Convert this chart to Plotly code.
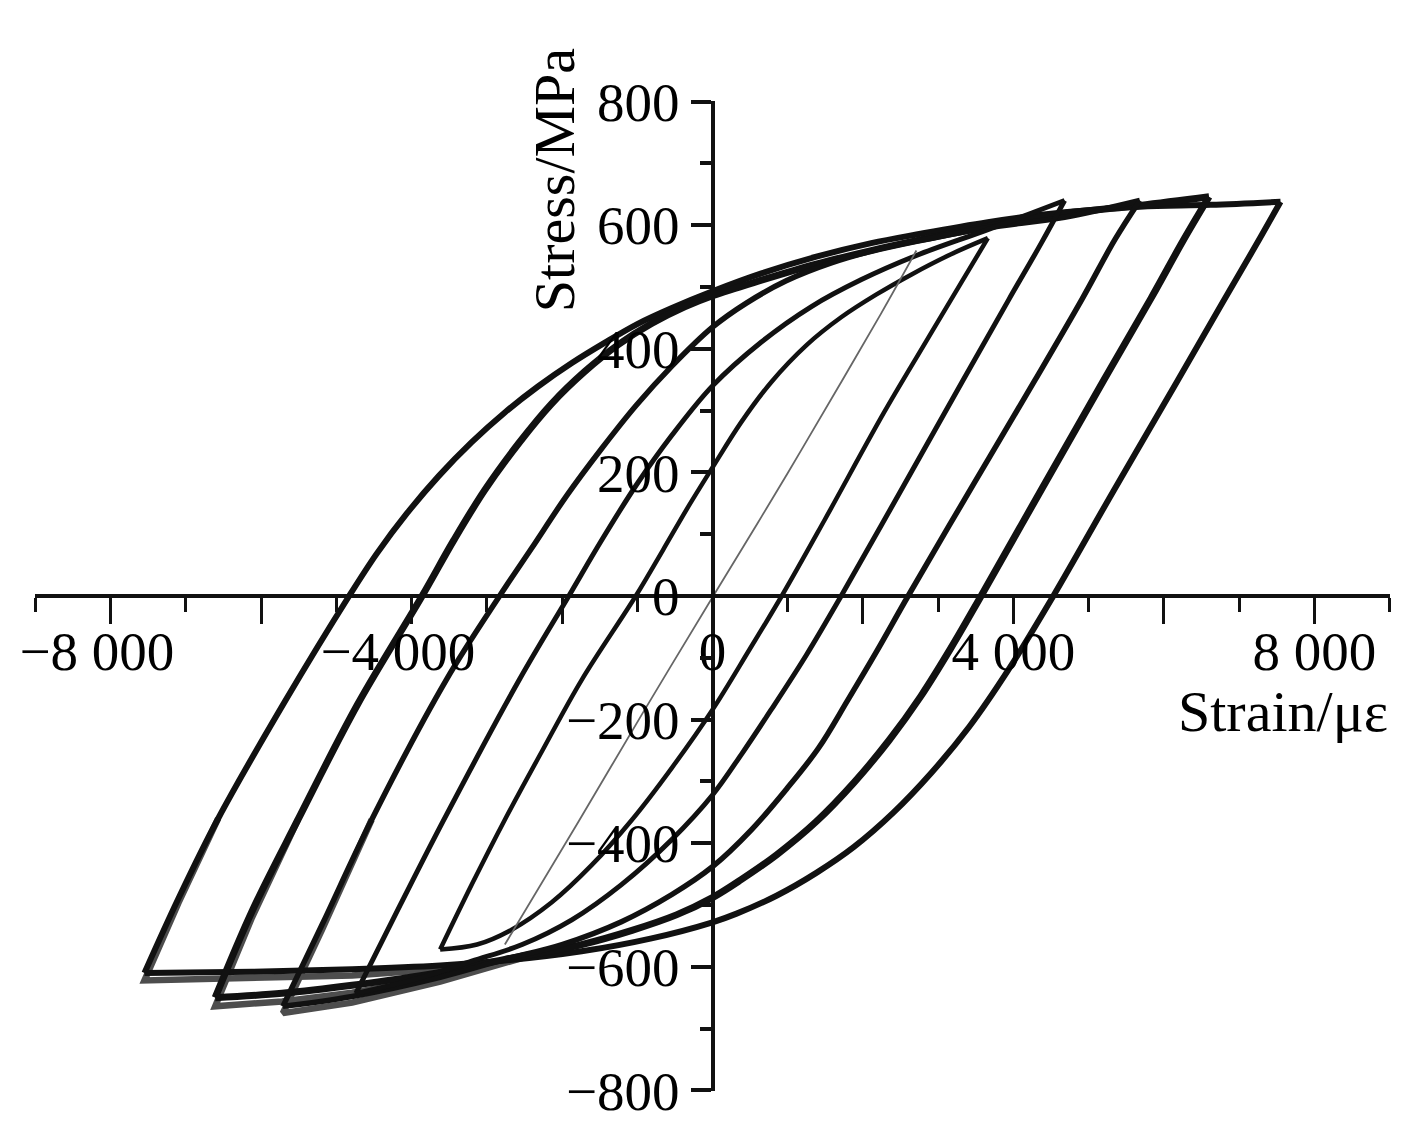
"""
Stress-strain hysteresis loops under increasing strain amplitude.
Values read off the reference figure (strain in με, stress in MPa).
"""
import plotly.graph_objects as go

# ---- loop 6 (largest amplitude) ----
L6_UP_X = [-7550, -7100, -6570, -5680, -4830, -4460, -4060, -3640, -3200, -2760, -2320, -1870,
           -1430, -1000, -540, 0, 650, 1380, 2110, 2710, 3660, 4680, 5680, 6620, 7550]
L6_UP_Y = [-610, -490, -360, -170, 0, 69, 134, 194, 249, 297, 339, 377,
           410, 440, 466, 493, 522, 549, 571, 585, 605, 621, 630, 633, 638]
L6_DN_X = [7550, 7220, 6780, 6160, 5330, 4530, 3930, 3410, 2910, 2400, 1880, 1380,
           850, 320, 0, -810, -1740, -2760, -3620, -4790, -6120, -7550]
L6_DN_Y = [638, 567, 475, 344, 170, 0, -120, -212, -286, -351, -406, -448,
           -485, -514, -528, -554, -575, -590, -598, -604, -608, -610]

# ---- loop 5 ----
L5_UP_X = [-6610, -6120, -5510, -4720, -3860, -3440, -3030, -2570, -2140, -1700, -1250,
           -810, -370, 0, 650, 1380, 2110, 2710, 3660, 4680, 5680, 6600]
L5_UP_Y = [-650, -510, -362, -176, 0, 90, 171, 248, 311, 363, 407,
           441, 468, 486, 511, 537, 559, 575, 598, 619, 632, 646]
L5_DN_X = [6600, 6260, 5830, 5200, 4380, 3570, 3170, 2770, 2350, 1880, 1380, 850,
           380, 0, -480, -1070, -1740, -2760, -3620, -4790, -5720, -6610]
L5_DN_Y = [646, 576, 482, 349, 174, 0, -84, -162, -233, -302, -365, -419,
           -459, -488, -516, -541, -564, -588, -609, -630, -643, -650]

# ---- loop 4 ----
L4_UP_X = [-5710, -5190, -4530, -3540, -2830, -2400, -1940, -1470, -1010, -540, 0,
           450, 980, 1580, 2240, 2910, 3660, 4680, 5680]
L4_UP_Y = [-664, -532, -362, -136, 0, 78, 162, 239, 309, 372, 435,
           474, 510, 539, 562, 579, 596, 613, 640]
L4_DN_X = [5680, 5350, 4910, 4290, 3460, 2600, 2180, 1800, 1410, 980, 520, 0,
           -540, -1210, -2000, -2760, -3620, -4790, -5710]
L4_DN_Y = [640, 577, 480, 350, 179, 0, -90, -168, -246, -313, -378, -438,
           -483, -527, -564, -588, -617, -648, -664]

# ---- loop 3 ----
L3_UP_X = [-4740, -4150, -3570, -2570, -1910, -1470, -1010, -540, 0, 650, 1310, 1980,
           2710, 3660, 4680]
L3_UP_Y = [-643, -500, -362, -136, 0, 91, 180, 260, 340, 411, 468, 512,
           551, 593, 640]
L3_DN_X = [4680, 4370, 3940, 3330, 2520, 1710, 1250, 780, 380, 0, -540, -1210,
           -1870, -2530, -3200, -3860, -4740]
L3_DN_Y = [640, 571, 480, 349, 174, 0, -95, -184, -257, -322, -394, -467,
           -524, -564, -591, -617, -643]

# ---- loop 2 ----
L2_UP_X = [-3620, -3200, -2760, -2270, -1740, -1020, -660, -310, 0, 380, 780, 1250,
           1710, 2180, 2640, 3170, 3660]
L2_UP_Y = [-572, -467, -362, -252, -136, 0, 74, 147, 208, 281, 346, 406,
           451, 488, 520, 553, 579]
L2_DN_X = [3660, 3300, 2810, 2280, 1490, 920, 490, 0, -540, -1070, -1610, -2140,
           -2670, -3130, -3620]
L2_DN_Y = [579, 506, 406, 297, 123, 0, -87, -184, -278, -362, -436, -496,
           -540, -564, -572]

# ---- loop 1 (almost elastic, thin line) ----
L1_X = [-2760, -1780, -940, 10, 650, 1180, 1710, 2240, 2710]
L1_Y = [-564, -365, -192, 0, 128, 236, 346, 457, 559]

# ---- repeated cycles that widen the compressive corners (grey bands) ----
L6B_X = [-2760, -3620, -4790, -6120, -7550, -7100, -6570]
L6B_Y = [-590, -604, -614, -619, -622, -497, -360]
L5B_X = [-2760, -3620, -4790, -5720, -6610, -6120, -5510]
L5B_Y = [-591, -617, -642, -656, -664, -520, -362]
L4B_X = [-2000, -2760, -3620, -4790, -5710, -5190, -4530]
L4B_Y = [-567, -593, -624, -658, -675, -540, -362]

# ---- axes ----
X_TICKS = [-8000, -6000, -4000, -2000, 0, 2000, 4000, 6000, 8000]
X_TICK_TEXT = ["\u22128 000\u2002", "", "\u22124 000\u2002", "", "0", "", "4 000", "", "8 000"]
X_MINOR = [-9000, -7000, -5000, -3000, -1000, 1000, 3000, 5000, 7000, 9000]
Y_TICKS = [-800, -600, -400, -200, 0, 200, 400, 600, 800]
Y_TICK_TEXT = ["\u2212800", "\u2212600", "\u2212400", "\u2212200", "0", "200", "400", "600", "800"]
Y_MINOR = [-700, -500, -300, -100, 100, 300, 500, 700]

FONT = "Liberation Serif"
INK = "#111111"

loops = [
    ("L6", L6_UP_X, L6_UP_Y, L6_DN_X, L6_DN_Y, 6.0),
    ("L5", L5_UP_X, L5_UP_Y, L5_DN_X, L5_DN_Y, 7.0),
    ("L4", L4_UP_X, L4_UP_Y, L4_DN_X, L4_DN_Y, 5.5),
    ("L3", L3_UP_X, L3_UP_Y, L3_DN_X, L3_DN_Y, 5.0),
    ("L2", L2_UP_X, L2_UP_Y, L2_DN_X, L2_DN_Y, 4.5),
]

fig = go.Figure()
for bx, by in ((L6B_X, L6B_Y), (L5B_X, L5B_Y), (L4B_X, L4B_Y)):
    fig.add_trace(go.Scatter(
        x=bx, y=by, mode="lines",
        line={"color": "#4d4d4d", "width": 6.5},
        hoverinfo="skip",
    ))
for name, ux, uy, dx, dy, w in loops:
    for xs, ys in ((ux, uy), (dx, dy)):
        fig.add_trace(go.Scatter(
            x=xs, y=ys, mode="lines", name=name,
            line={"color": INK, "width": w, "shape": "spline", "smoothing": 1.0},
            hoverinfo="skip",
        ))
fig.add_trace(go.Scatter(
    x=L1_X, y=L1_Y, mode="lines", name="L1",
    line={"color": "#666666", "width": 1.8, "shape": "spline", "smoothing": 1.0},
    hoverinfo="skip",
))

fig.update_layout(
    width=1409, height=1131,
    margin={"l": 25, "r": 27, "t": 93, "b": 48},
    paper_bgcolor="white", plot_bgcolor="white",
    showlegend=False,
    font={"family": FONT, "color": "black"},
    annotations=[
        {"text": "Strain/\u03bc\u03b5", "xref": "paper", "yref": "paper",
         "x": 1.0, "y": 0.383, "xanchor": "right", "yanchor": "middle",
         "showarrow": False, "font": {"family": FONT, "size": 58, "color": "black"}},
        {"text": "Stress/MPa", "xref": "paper", "yref": "paper",
         "x": 0.383, "y": 0.92, "xanchor": "center", "yanchor": "middle", "textangle": -90,
         "showarrow": False, "font": {"family": FONT, "size": 58, "color": "black"}},
    ],
)
fig.update_xaxes(
    range=[-9005, 9005], anchor="free", position=0.5,
    showgrid=False, zeroline=False,
    showline=True, linecolor=INK, linewidth=4,
    tickmode="array", tickvals=X_TICKS, ticktext=X_TICK_TEXT,
    ticks="outside", ticklen=26, tickwidth=3, tickcolor=INK,
    ticklabelstandoff=-20,
    tickfont={"family": FONT, "size": 55, "color": "black"},
    minor={"tickmode": "array", "tickvals": X_MINOR, "ticks": "outside",
           "ticklen": 14, "tickwidth": 3, "tickcolor": INK, "showgrid": False},
)
fig.update_yaxes(
    range=[-801, 801], anchor="free", position=0.5,
    showgrid=False, zeroline=False,
    showline=True, linecolor=INK, linewidth=4,
    tickmode="array", tickvals=Y_TICKS, ticktext=Y_TICK_TEXT,
    ticks="outside", ticklen=20, tickwidth=4, tickcolor=INK,
    tickfont={"family": FONT, "size": 55, "color": "black"},
    minor={"tickmode": "array", "tickvals": Y_MINOR, "ticks": "outside",
           "ticklen": 11, "tickwidth": 4, "tickcolor": INK, "showgrid": False},
)

fig.write_html("out.html")
